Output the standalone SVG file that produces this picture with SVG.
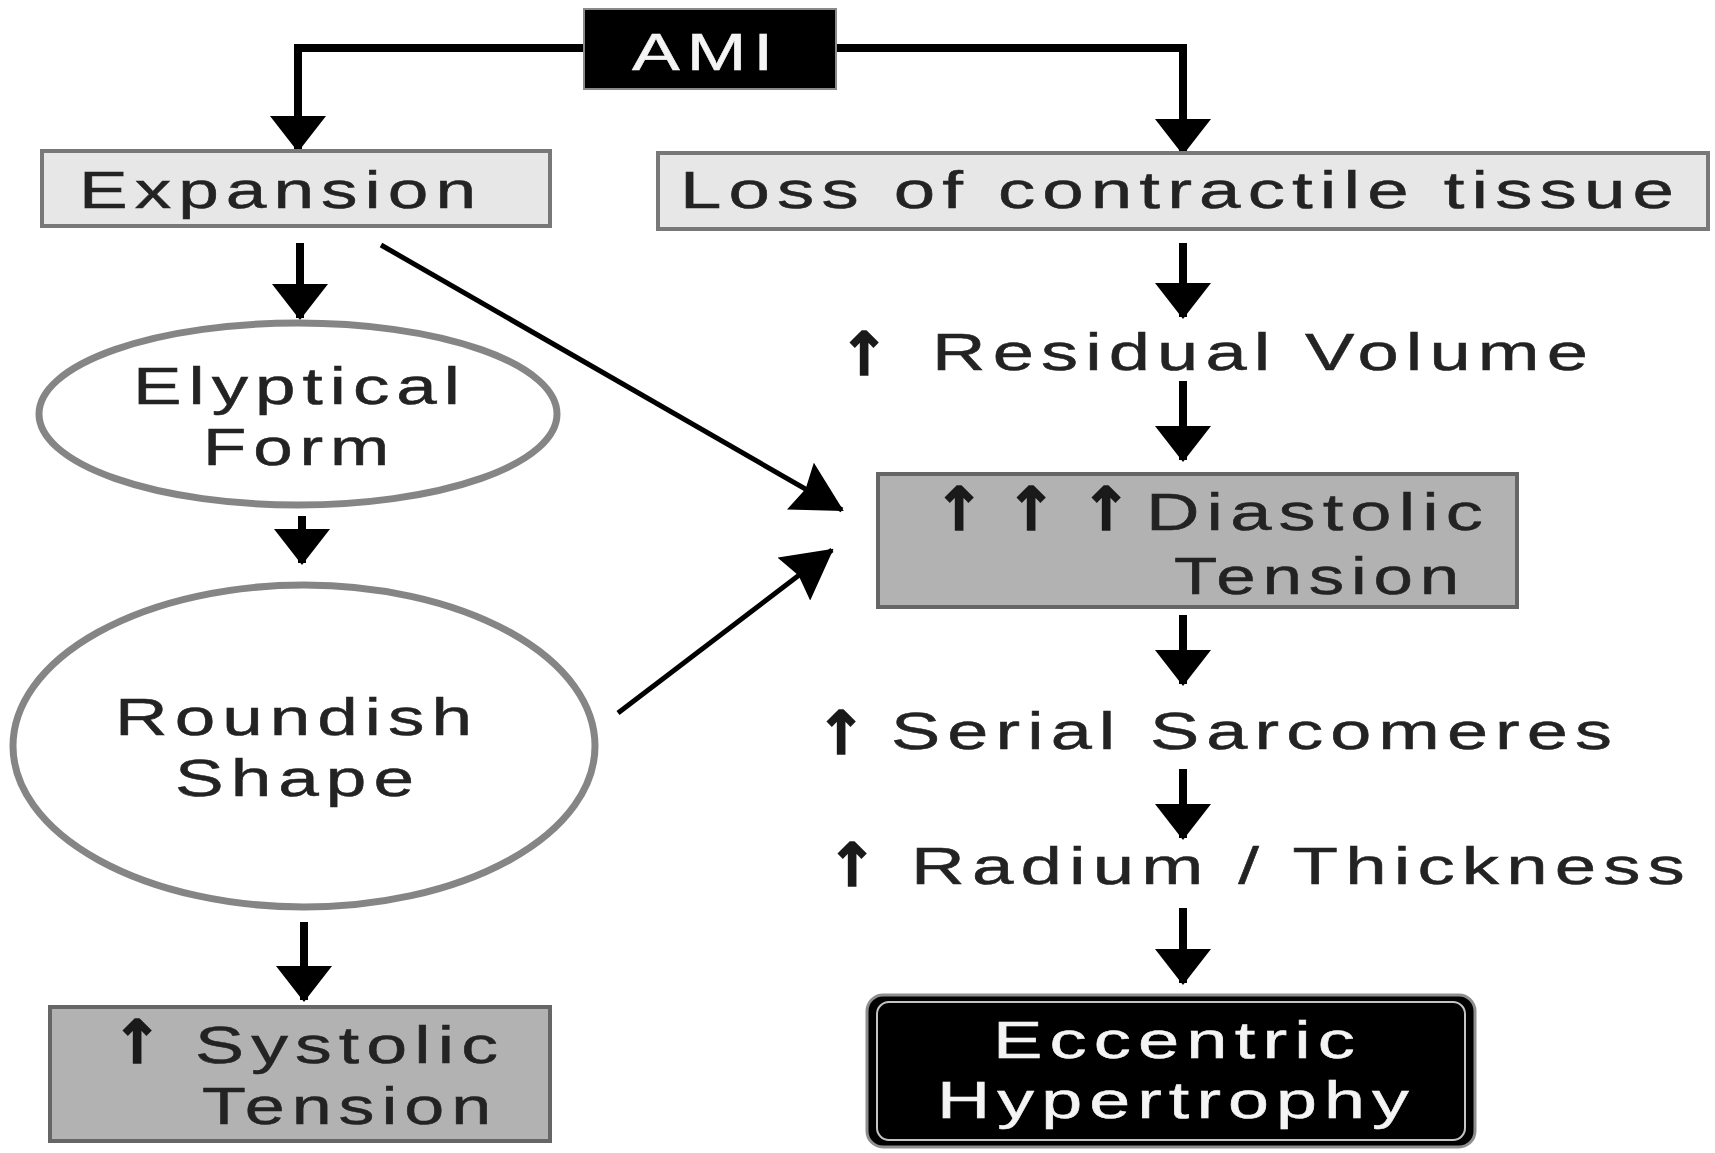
<svg xmlns="http://www.w3.org/2000/svg" width="1715" height="1153" viewBox="0 0 1715 1153">
  <style>
    .lbl { font-family: "Liberation Sans", Arial, sans-serif; font-size: 52px; fill: #232323; stroke: #232323; stroke-width: 0.5px; letter-spacing: 5px; }
    .inv { fill: #f4f4f4; stroke: #f4f4f4; }
    .up { font-family: "DejaVu Sans", sans-serif; font-size: 60px; font-weight: bold; fill: #1a1a1a; stroke: #1a1a1a; stroke-width: 1.6px; text-anchor: middle; }
    .light { fill: #e7e7e7; stroke: #787878; stroke-width: 4; }
    .mid { fill: #b2b2b2; stroke: #666666; stroke-width: 4; }
    .oval { fill: #ffffff; stroke: #858585; stroke-width: 7; }
    .wire { fill: none; stroke: #000000; stroke-width: 8; }
    .diag { fill: none; stroke: #000000; stroke-width: 5; }
  </style>
  <defs>
    <marker id="head" viewBox="0 0 36 56" markerWidth="36" markerHeight="56" refX="34" refY="28" orient="auto" markerUnits="userSpaceOnUse">
      <path d="M0,0 L36,28 L0,56 Z" fill="#000000"/>
    </marker>
    <marker id="headD" viewBox="0 0 50 54" markerWidth="50" markerHeight="54" refX="48" refY="27" orient="auto" markerUnits="userSpaceOnUse">
      <path d="M0,0 L50,27 L0,54 L6,27 Z" fill="#000000"/>
    </marker>
  </defs>

  <!-- connectors -->
  <g id="connectors">
    <path class="wire" d="M584,48 H298 V150" marker-end="url(#head)"/>
    <path class="wire" d="M836,48 H1183 V153" marker-end="url(#head)"/>
    <path class="wire" d="M300,243 V318" marker-end="url(#head)"/>
    <path class="wire" d="M302,516 V563" marker-end="url(#head)"/>
    <path class="wire" d="M304,922 V1000" marker-end="url(#head)"/>
    <path class="wire" d="M1183,243 V317" marker-end="url(#head)"/>
    <path class="wire" d="M1183,381 V460" marker-end="url(#head)"/>
    <path class="wire" d="M1183,615 V684" marker-end="url(#head)"/>
    <path class="wire" d="M1183,769 V838" marker-end="url(#head)"/>
    <path class="wire" d="M1183,908 V983" marker-end="url(#head)"/>
    <path class="diag" d="M381,245 L842,510" marker-end="url(#headD)"/>
    <path class="diag" d="M618,713 L832,550" marker-end="url(#headD)"/>
  </g>

  <g id="ami">
    <rect x="584" y="9" width="252" height="80" fill="#000000" stroke="#8a8a8a" stroke-width="2"/>
    <text class="lbl inv" x="632" y="70" font-size="56" textLength="148" lengthAdjust="spacingAndGlyphs">AMI</text>
  </g>

  <g id="expansion">
    <rect class="light" x="42" y="151" width="508" height="75"/>
    <text class="lbl" x="79" y="208" textLength="404" lengthAdjust="spacingAndGlyphs">Expansion</text>
  </g>

  <g id="loss">
    <rect class="light" x="658" y="153" width="1050" height="76"/>
    <text class="lbl" x="680" y="208" textLength="1001" lengthAdjust="spacingAndGlyphs">Loss of contractile tissue</text>
  </g>

  <g id="elyptical">
    <ellipse class="oval" cx="298" cy="414" rx="259" ry="91"/>
    <text class="lbl" x="133" y="404" textLength="334" lengthAdjust="spacingAndGlyphs">Elyptical</text>
    <text class="lbl" x="203" y="465" textLength="193" lengthAdjust="spacingAndGlyphs">Form</text>
  </g>

  <g id="roundish">
    <ellipse class="oval" cx="304" cy="746" rx="291" ry="161"/>
    <text class="lbl" x="115" y="735" textLength="364" lengthAdjust="spacingAndGlyphs">Roundish</text>
    <text class="lbl" x="175" y="796" textLength="246" lengthAdjust="spacingAndGlyphs">Shape</text>
  </g>

  <g id="systolic">
    <rect class="mid" x="50" y="1007" width="500" height="134"/>
    <text class="up" x="137" y="1063">↑</text>
    <text class="lbl" x="195" y="1063" textLength="310" lengthAdjust="spacingAndGlyphs">Systolic</text>
    <text class="lbl" x="202" y="1124" textLength="296" lengthAdjust="spacingAndGlyphs">Tension</text>
  </g>

  <g id="residual">
    <text class="up" x="864" y="375">↑</text>
    <text class="lbl" x="932" y="370" textLength="663" lengthAdjust="spacingAndGlyphs">Residual Volume</text>
  </g>

  <g id="diastolic">
    <rect class="mid" x="878" y="474" width="639" height="133"/>
    <text class="up" x="959" y="530">↑</text>
    <text class="up" x="1031" y="530">↑</text>
    <text class="up" x="1106" y="530">↑</text>
    <text class="lbl" x="1146" y="530" textLength="344" lengthAdjust="spacingAndGlyphs">Diastolic</text>
    <text class="lbl" x="1174" y="594" textLength="292" lengthAdjust="spacingAndGlyphs">Tension</text>
  </g>

  <g id="serial">
    <text class="up" x="841" y="754">↑</text>
    <text class="lbl" x="891" y="749" textLength="728" lengthAdjust="spacingAndGlyphs">Serial Sarcomeres</text>
  </g>

  <g id="radium">
    <text class="up" x="852" y="886">↑</text>
    <text class="lbl" x="911" y="884" textLength="781" lengthAdjust="spacingAndGlyphs">Radium / Thickness</text>
  </g>

  <g id="eccentric">
    <rect x="867" y="995" width="608" height="152" rx="16" fill="#000000" stroke="#8e8e8e" stroke-width="3"/>
    <rect x="877" y="1002" width="588" height="138" rx="12" fill="none" stroke="#c4c4c4" stroke-width="2"/>
    <text class="lbl inv" x="993" y="1058" textLength="369" lengthAdjust="spacingAndGlyphs">Eccentric</text>
    <text class="lbl inv" x="937" y="1118" textLength="479" lengthAdjust="spacingAndGlyphs">Hypertrophy</text>
  </g>
</svg>
